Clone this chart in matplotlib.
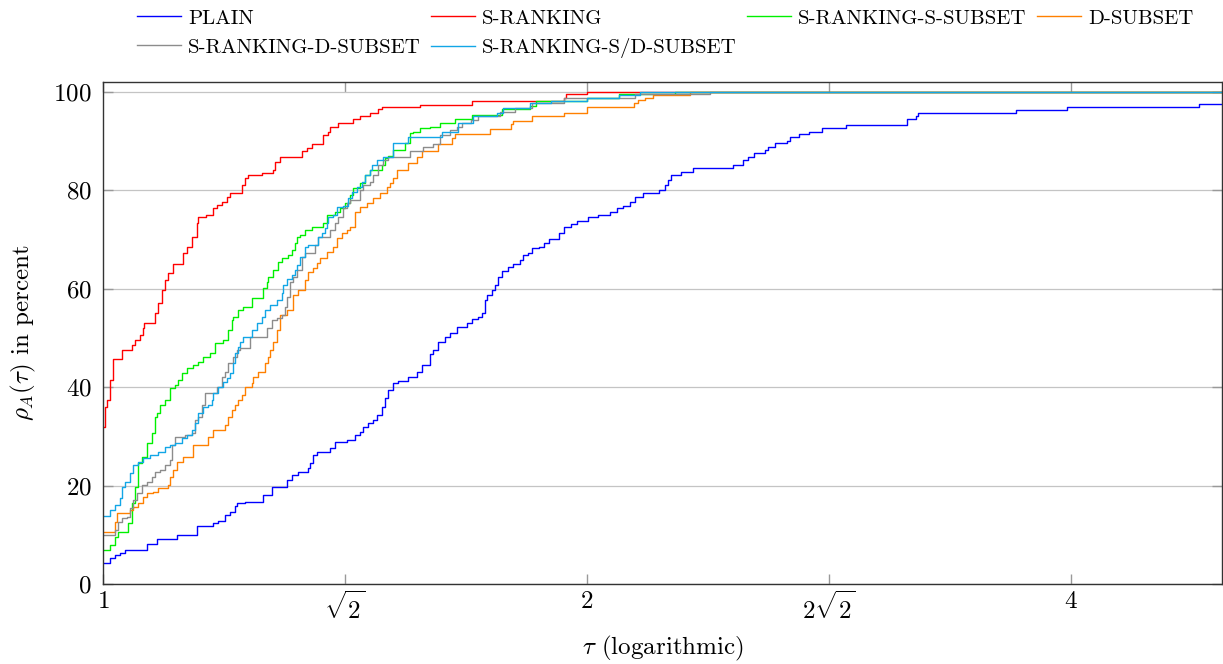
import matplotlib
matplotlib.use("Agg")
import matplotlib.pyplot as plt
import numpy as np
from matplotlib.ticker import FixedLocator, FixedFormatter, NullLocator

plt.rcParams['font.family'] = 'serif'
plt.rcParams['font.serif'] = ['cmr10', 'DejaVu Serif']
plt.rcParams['mathtext.fontset'] = 'cm'
plt.rcParams['axes.unicode_minus'] = False
plt.rcParams['axes.formatter.use_mathtext'] = True

# ---------------- data: (tau, percent after the step) ----------------
PLAIN = [(1.000, 4.3), (1.010, 5.3), (1.017, 5.9), (1.025, 6.3), (1.032, 6.9), (1.065, 8.2), (1.081, 9.2),
         (1.112, 9.9), (1.144, 11.8), (1.171, 12.4), (1.179, 12.8), (1.191, 14.0), (1.199, 14.6), (1.208, 15.9),
         (1.211, 16.4), (1.225, 16.7), (1.257, 18.1), (1.274, 19.7), (1.301, 21.1), (1.311, 22.2), (1.322, 22.8),
         (1.341, 23.5), (1.345, 24.5), (1.351, 26.2), (1.359, 26.8), (1.384, 27.6), (1.394, 28.9), (1.418, 29.3),
         (1.435, 30.3), (1.445, 30.9), (1.451, 32.0), (1.462, 32.7), (1.472, 33.3), (1.481, 34.3), (1.491, 36.0),
         (1.498, 37.8), (1.504, 39.4), (1.515, 40.8), (1.526, 41.3), (1.548, 42.0), (1.568, 43.1), (1.579, 44.5),
         (1.597, 46.7), (1.604, 47.6), (1.616, 49.2), (1.632, 50.2), (1.644, 51.0), (1.660, 52.2), (1.684, 53.0),
         (1.696, 53.9), (1.711, 54.3), (1.721, 55.0), (1.728, 57.7), (1.733, 58.7), (1.746, 59.8), (1.753, 60.8),
         (1.761, 62.4), (1.771, 63.6), (1.786, 64.4), (1.799, 65.0), (1.817, 65.9), (1.825, 66.9), (1.838, 67.3),
         (1.849, 68.3), (1.867, 68.5), (1.881, 69.3), (1.894, 70.1), (1.922, 71.3), (1.935, 72.6), (1.955, 73.2),
         (1.972, 73.8), (2.003, 74.6), (2.032, 75.0), (2.067, 75.6), (2.088, 76.4), (2.106, 76.8), (2.127, 77.6),
         (2.142, 78.7), (2.167, 79.4), (2.217, 80.1), (2.236, 81.1), (2.246, 82.1), (2.256, 83.1), (2.288, 83.7),
         (2.328, 84.5), (2.465, 85.2), (2.501, 86.2), (2.519, 86.8), (2.540, 87.6), (2.581, 88.2), (2.592, 88.8),
         (2.618, 89.6), (2.663, 90.0), (2.674, 90.8), (2.709, 91.4), (2.748, 91.9), (2.800, 92.7), (2.898, 93.3),
         (3.163, 94.5), (3.204, 95.0), (3.213, 95.7), (3.697, 96.3), (3.978, 97.0), (4.805, 97.6)]

S_RANKING = [(1.000, 32.0), (1.003, 36.0), (1.006, 37.3), (1.010, 41.5), (1.014, 45.7), (1.027, 47.6),
             (1.042, 48.6), (1.047, 49.6), (1.054, 50.6), (1.059, 52.0), (1.061, 53.1), (1.077, 55.0),
             (1.082, 57.0), (1.088, 59.7), (1.093, 61.8), (1.098, 63.2), (1.106, 65.0), (1.121, 67.2),
             (1.128, 68.5), (1.136, 70.5), (1.144, 73.3), (1.146, 74.6), (1.159, 75.0), (1.171, 76.4),
             (1.177, 77.0), (1.186, 77.7), (1.194, 78.7), (1.199, 79.4), (1.220, 81.1), (1.225, 82.5),
             (1.231, 83.1), (1.256, 83.5), (1.276, 84.1), (1.279, 85.8), (1.288, 86.8), (1.330, 88.0),
             (1.339, 88.6), (1.349, 89.4), (1.370, 91.2), (1.380, 91.9), (1.384, 92.9), (1.400, 93.7),
             (1.431, 94.5), (1.445, 95.1), (1.466, 95.7), (1.483, 96.5), (1.491, 97.0), (1.574, 97.4),
             (1.696, 98.2), (1.935, 98.8), (1.941, 99.5), (2.000, 100.0)]

S_RANKING_S_SUBSET = [(1.000, 6.9), (1.010, 7.9), (1.017, 9.6), (1.022, 10.6), (1.037, 12.4), (1.042, 16.4),
                      (1.047, 19.7), (1.051, 24.5), (1.057, 25.9), (1.065, 28.6), (1.073, 30.6), (1.077, 34.0),
                      (1.081, 34.7), (1.085, 36.4), (1.093, 37.4), (1.101, 39.8), (1.109, 40.4), (1.113, 41.5),
                      (1.120, 42.8), (1.128, 43.9), (1.138, 44.5), (1.146, 45.1), (1.154, 46.2), (1.166, 46.9),
                      (1.174, 49.0), (1.187, 49.6), (1.196, 51.6), (1.203, 53.7), (1.205, 54.3), (1.213, 55.7),
                      (1.222, 56.3), (1.238, 58.1), (1.257, 60.2), (1.265, 61.4), (1.266, 62.4), (1.276, 63.8),
                      (1.285, 65.5), (1.292, 66.3), (1.303, 66.9), (1.311, 67.9), (1.316, 69.3), (1.320, 70.5),
                      (1.326, 70.9), (1.335, 71.9), (1.349, 72.6), (1.370, 73.3), (1.378, 75.0), (1.394, 75.6),
                      (1.404, 76.4), (1.414, 77.4), (1.424, 79.0), (1.431, 80.5), (1.445, 81.5), (1.455, 83.1),
                      (1.466, 84.1), (1.491, 85.2), (1.498, 86.6), (1.504, 87.0), (1.515, 88.2), (1.541, 89.6),
                      (1.552, 91.7), (1.559, 91.9), (1.574, 92.7), (1.597, 92.9), (1.620, 93.7), (1.655, 94.5),
                      (1.696, 95.2), (1.771, 96.5), (1.843, 97.2), (1.859, 98.2), (2.000, 98.8), (2.094, 99.5),
                      (2.269, 100.0)]

D_SUBSET = [(1.000, 10.6), (1.017, 12.6), (1.020, 14.4), (1.039, 15.0), (1.044, 15.7), (1.051, 16.4),
            (1.059, 17.7), (1.065, 18.5), (1.074, 18.7), (1.082, 19.5), (1.098, 20.1), (1.101, 21.7),
            (1.106, 23.2), (1.112, 24.8), (1.121, 25.8), (1.138, 28.3), (1.162, 29.9), (1.171, 31.3),
            (1.191, 32.3), (1.196, 34.0), (1.203, 35.4), (1.208, 36.4), (1.213, 37.4), (1.220, 38.4),
            (1.225, 40.0), (1.238, 40.8), (1.240, 42.1), (1.248, 43.1), (1.261, 44.9), (1.266, 46.1),
            (1.270, 47.6), (1.276, 49.2), (1.283, 51.6), (1.288, 54.7), (1.301, 55.7), (1.313, 58.7),
            (1.322, 59.8), (1.335, 61.8), (1.341, 63.4), (1.351, 64.2), (1.359, 65.2), (1.364, 66.3),
            (1.378, 67.5), (1.390, 68.5), (1.398, 70.3), (1.408, 71.3), (1.418, 71.9), (1.424, 72.6),
            (1.435, 75.6), (1.445, 76.6), (1.460, 77.4), (1.472, 78.5), (1.487, 79.4), (1.502, 80.7),
            (1.508, 81.5), (1.515, 82.5), (1.524, 84.1), (1.548, 85.6), (1.568, 86.8), (1.579, 88.0),
            (1.616, 89.5), (1.648, 90.6), (1.655, 91.4), (1.741, 92.4), (1.794, 93.4), (1.799, 94.0),
            (1.849, 95.0), (1.935, 95.7), (2.000, 97.0), (2.139, 97.7), (2.151, 98.4), (2.173, 98.8),
            (2.198, 99.4), (2.318, 100.0)]

S_RANKING_D_SUBSET = [(1.000, 10.0), (1.017, 11.0), (1.022, 12.6), (1.028, 13.4), (1.035, 13.6), (1.039, 15.4),
                      (1.044, 17.1), (1.050, 18.5), (1.057, 20.1), (1.065, 20.7), (1.073, 21.7), (1.077, 22.8),
                      (1.085, 23.2), (1.093, 24.2), (1.101, 25.2), (1.104, 28.3), (1.109, 29.9), (1.125, 30.3),
                      (1.136, 30.7), (1.141, 33.3), (1.146, 34.0), (1.152, 36.4), (1.157, 38.8), (1.177, 40.0),
                      (1.186, 42.1), (1.191, 43.1), (1.196, 44.9), (1.205, 46.2), (1.211, 47.6), (1.217, 48.0),
                      (1.234, 50.2), (1.265, 52.0), (1.274, 53.7), (1.283, 54.0), (1.292, 54.7), (1.298, 56.3),
                      (1.301, 58.3), (1.307, 61.4), (1.313, 62.4), (1.320, 63.8), (1.330, 66.5), (1.335, 67.3),
                      (1.355, 68.9), (1.360, 70.5), (1.384, 71.9), (1.394, 73.3), (1.400, 74.6), (1.410, 76.4),
                      (1.418, 77.4), (1.424, 78.0), (1.445, 80.1), (1.451, 81.1), (1.466, 81.7), (1.472, 83.1),
                      (1.483, 85.2), (1.493, 86.2), (1.504, 86.8), (1.552, 88.0), (1.581, 88.8), (1.603, 89.4),
                      (1.620, 91.3), (1.644, 92.3), (1.660, 92.9), (1.672, 93.6), (1.694, 94.3), (1.711, 95.0),
                      (1.766, 96.0), (1.805, 96.8), (1.849, 97.7), (1.935, 98.7), (2.142, 99.5), (2.385, 100.0)]

S_RANKING_SD_SUBSET = [(1.000, 13.8), (1.010, 15.0), (1.017, 16.1), (1.025, 17.5), (1.028, 19.7), (1.032, 20.7),
                       (1.039, 22.5), (1.044, 24.2), (1.051, 24.8), (1.059, 25.6), (1.070, 26.2), (1.082, 26.8),
                       (1.093, 27.9), (1.101, 28.3), (1.109, 28.6), (1.120, 29.7), (1.128, 30.3), (1.136, 31.3),
                       (1.141, 32.7), (1.146, 34.7), (1.154, 36.0), (1.162, 36.4), (1.169, 37.4), (1.171, 38.8),
                       (1.179, 40.0), (1.187, 41.1), (1.194, 41.9), (1.199, 42.8), (1.205, 44.9), (1.208, 46.9),
                       (1.213, 48.2), (1.217, 49.2), (1.222, 50.2), (1.238, 51.6), (1.247, 53.1), (1.256, 54.3),
                       (1.261, 55.7), (1.270, 56.7), (1.283, 57.7), (1.292, 59.1), (1.294, 60.8), (1.301, 62.0),
                       (1.311, 62.8), (1.316, 63.8), (1.320, 64.8), (1.326, 66.5), (1.335, 68.5), (1.341, 68.9),
                       (1.360, 70.5), (1.368, 71.3), (1.374, 72.3), (1.378, 73.3), (1.380, 74.6), (1.390, 75.0),
                       (1.398, 76.6), (1.410, 76.8), (1.420, 78.5), (1.428, 79.7), (1.439, 80.7), (1.449, 81.7),
                       (1.455, 83.1), (1.466, 84.1), (1.470, 85.2), (1.481, 86.2), (1.493, 86.8), (1.515, 89.6),
                       (1.548, 90.8), (1.625, 91.9), (1.663, 93.7), (1.699, 95.0), (1.758, 95.7), (1.773, 96.8),
                       (1.843, 97.7), (1.900, 98.2), (2.000, 98.7), (2.094, 99.4), (2.158, 100.0)]

SERIES_NAMES = ['PLAIN', 'S-RANKING', 'S-RANKING-S-SUBSET', 'D-SUBSET',
                'S-RANKING-D-SUBSET', 'S-RANKING-S/D-SUBSET']
SERIES_DATA = [PLAIN, S_RANKING, S_RANKING_S_SUBSET, D_SUBSET, S_RANKING_D_SUBSET, S_RANKING_SD_SUBSET]
SERIES_COLORS = ['#0000ff', '#ff0000', '#00f000', '#ff8000', '#8c8c8c', '#12a6e6']

TAU_MAX = 4.965
X_TICKS = [1.0, np.sqrt(2), 2.0, 2 * np.sqrt(2), 4.0]
X_TICK_LABELS = [r'$1$', r'$\sqrt{2}$', r'$2$', r'$2\sqrt{2}$', r'$4$']
Y_TICKS = [0, 20, 40, 60, 80, 100]

# ---------------- figure ----------------
W, H = 1223, 664
fig = plt.figure(figsize=(W / 100, H / 100), dpi=100)
ax = fig.add_axes([103 / W, 80 / H, 1119 / W, 502 / H])

handles = []
for name, data, col in zip(SERIES_NAMES, SERIES_DATA, SERIES_COLORS):
    tau = [p[0] for p in data] + [TAU_MAX]
    pct = [p[1] for p in data] + [data[-1][1]]
    h, = ax.step(tau, pct, where='post', color=col, lw=1.0, label=name)
    handles.append(h)

ax.set_xscale('log', base=2)
ax.set_xlim(1.0, TAU_MAX)
ax.set_ylim(0, 102)
ax.xaxis.set_major_locator(FixedLocator(X_TICKS))
ax.xaxis.set_major_formatter(FixedFormatter(X_TICK_LABELS))
ax.xaxis.set_minor_locator(NullLocator())
ax.yaxis.set_major_locator(FixedLocator(Y_TICKS))
ax.yaxis.set_minor_locator(NullLocator())

ax.grid(True, axis='y', color='#c4c4c4', lw=0.9)
ax.set_axisbelow(True)
for s in ax.spines.values():
    s.set_color('#333333')
    s.set_linewidth(1.0)

ax.tick_params(axis='both', which='major', direction='in', length=7, width=1.0,
               colors='#999999', labelcolor='black', labelsize=18,
               top=True, right=True)
ax.tick_params(axis='y', pad=8)
ax.tick_params(axis='x', pad=5)

ax.set_xlabel(r'$\tau$ (logarithmic)', fontsize=18)
ax.set_ylabel(r'$\rho_A(\tau)$ in percent', fontsize=18)
ax.xaxis.set_label_coords(0.5, -0.100)
ax.yaxis.set_label_coords(-0.058, 0.5)

# legend filled row by row (4 columns, 2 rows)
order = [0, 4, 1, 5, 2, 3]
fig.legend(handles=[handles[i] for i in order], labels=[SERIES_NAMES[i] for i in order],
           loc='upper left', bbox_to_anchor=(137 / W, 1 - 9 / H), ncol=4, frameon=False,
           fontsize=15, handlelength=2.1, handletextpad=0.35, columnspacing=0.5,
           labelspacing=0.5, borderpad=0, borderaxespad=0)

fig.savefig('out.png', dpi=100)
